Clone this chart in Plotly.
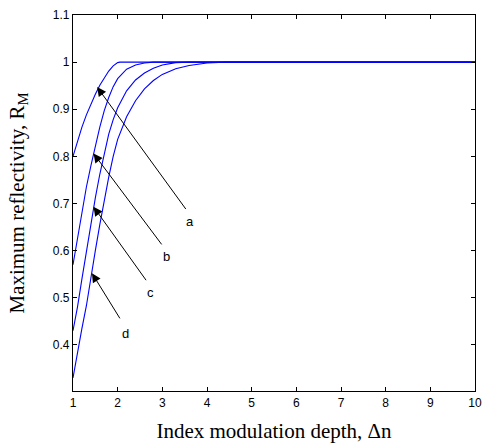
import plotly.graph_objects as go

# Curve data
a_x = [1.0, 1.1, 1.2, 1.3, 1.4, 1.5, 1.6, 1.7, 1.8, 1.9, 2.0, 2.05, 10]
a_y = [0.800, 0.833, 0.862, 0.888, 0.911, 0.932, 0.951, 0.967, 0.981, 0.992, 0.999, 1.0, 1.0]

b_x = [1.0, 1.1, 1.2, 1.3, 1.4, 1.5, 1.6, 1.7, 1.8, 1.9, 2.0, 2.2, 2.4, 2.6, 2.8, 3.0, 10]
b_y = [0.570, 0.625, 0.685, 0.735, 0.780, 0.823, 0.862, 0.897, 0.925, 0.948, 0.965, 0.985, 0.994, 0.998, 1.0, 1.0, 1.0]

c_x = [1.0, 1.1, 1.2, 1.3, 1.4, 1.5, 1.6, 1.7, 1.8, 1.9, 2.0, 2.2, 2.4, 2.6, 2.8, 3.0, 3.3, 3.6, 10]
c_y = [0.430, 0.480, 0.540, 0.600, 0.658, 0.712, 0.762, 0.808, 0.847, 0.878, 0.903, 0.939, 0.962, 0.977, 0.987, 0.994, 0.999, 1.0, 1.0]

d_x = [1.0, 1.1, 1.2, 1.3, 1.4, 1.5, 1.6, 1.7, 1.8, 1.9, 2.0, 2.2, 2.4, 2.6, 2.8, 3.0, 3.3, 3.6, 4.0, 4.4, 10]
d_y = [0.330, 0.385, 0.435, 0.483, 0.537, 0.600, 0.655, 0.708, 0.756, 0.800, 0.836, 0.884, 0.918, 0.943, 0.961, 0.974, 0.986, 0.993, 0.998, 1.0, 1.0]

# Arrow labels: name, tip (x, y), tail (x, y), label position (x, y)
labels = ["a", "b", "c", "d"]
tips = [(1.54, 0.947), (1.46, 0.806), (1.46, 0.693), (1.425, 0.552)]
tails = [(3.55, 0.685), (3.01, 0.610), (2.66, 0.534), (2.07, 0.453)]
label_pos = [(3.63, 0.662), (3.09, 0.587), (2.74, 0.510), (2.17, 0.425)]

x_ticks = [1, 2, 3, 4, 5, 6, 7, 8, 9, 10]
y_ticks = [0.4, 0.5, 0.6, 0.7, 0.8, 0.9, 1.0, 1.1]
y_tick_text = ["0.4", "0.5", "0.6", "0.7", "0.8", "0.9", "1", "1.1"]

fig = go.Figure()
for xs, ys in [(a_x, a_y), (b_x, b_y), (c_x, c_y), (d_x, d_y)]:
    fig.add_trace(go.Scatter(x=xs, y=ys, mode="lines",
                             line=dict(color="#0000ff", width=1.1),
                             showlegend=False, hoverinfo="skip"))

for name, tip, tail, lp in zip(labels, tips, tails, label_pos):
    fig.add_annotation(x=tip[0], y=tip[1], ax=tail[0], ay=tail[1],
                       xref="x", yref="y", axref="x", ayref="y",
                       text="", showarrow=True, arrowhead=2, arrowsize=1.8,
                       arrowwidth=1, arrowcolor="black", standoff=0, startstandoff=0)
    fig.add_annotation(x=lp[0], y=lp[1], xref="x", yref="y", text=name,
                       showarrow=False,
                       font=dict(family="Liberation Sans", size=13, color="black"))

axis_common = dict(showgrid=False, zeroline=False, showline=True, linecolor="black",
                   linewidth=1.3, mirror="ticks", ticks="inside", ticklen=4,
                   tickcolor="black", automargin=False,
                   tickfont=dict(family="Liberation Sans", size=12, color="black"))

fig.update_xaxes(range=[1, 10], tickvals=x_ticks, ticktext=[str(v) for v in x_ticks],
                 title=dict(text="Index modulation depth, Δn", standoff=14,
                            font=dict(family="Liberation Serif", size=21, color="black")),
                 **axis_common)
fig.update_yaxes(range=[0.302, 1.1], tickvals=y_ticks, ticktext=y_tick_text,
                 title=dict(text="Maximum reflectivity, R<sub>M</sub>", standoff=22,
                            font=dict(family="Liberation Serif", size=21, color="black")),
                 **axis_common)

fig.update_layout(width=485, height=445, margin=dict(l=73, r=10, t=15, b=54),
                  paper_bgcolor="white", plot_bgcolor="white")

fig.write_html("out.html")
